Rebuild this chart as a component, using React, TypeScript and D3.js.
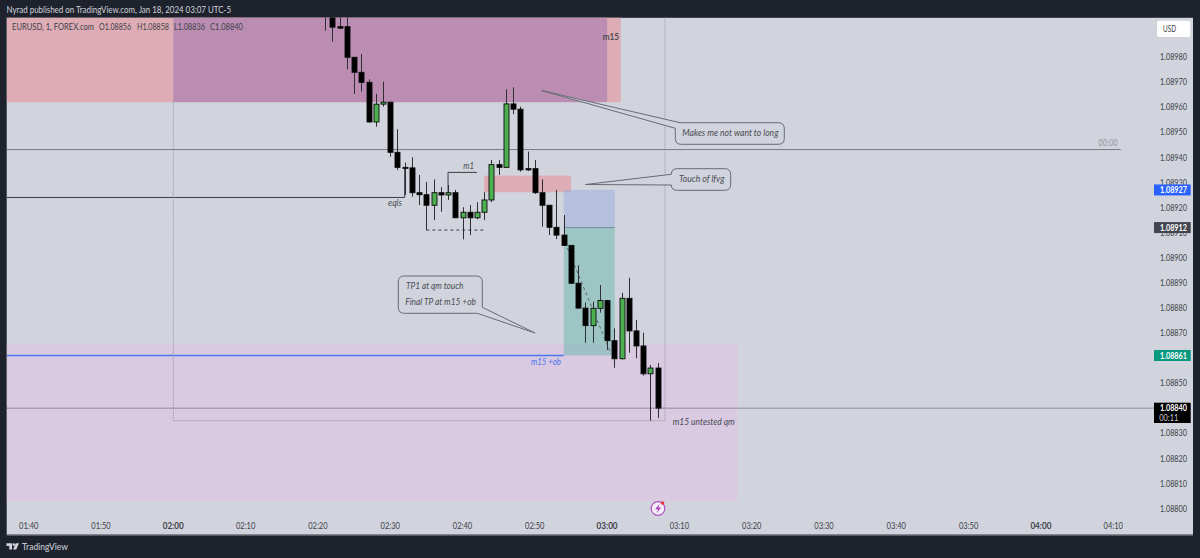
import React from "react";
import * as d3 from "d3";

const W = 1200, H = 558;
const panel = { l: 6.7, t: 17.5, r: 1193, b: 534.5 };

// Time in minutes since 01:40
const minutes = [41,42,43,44,45,46,47,48,49,50,51,52,53,54,55,56,57,58,59,60,61,62,63,64,65,66,67,68,69,70,71,72,73,74,75,76,77,78,79,80,81,82,83,84,85,86,87];
const opens = [1.09,1.08998,1.089921,1.089921,1.089799,1.089739,1.089699,1.089541,1.089612,1.08962,1.08942,1.08936,1.089358,1.089259,1.089251,1.089209,1.089259,1.08925,1.089259,1.089159,1.089181,1.089159,1.089181,1.08923,1.089371,1.08936,1.089613,1.089592,1.089355,1.089355,1.089259,1.089209,1.089121,1.08909,1.089049,1.088898,1.088799,1.088729,1.088798,1.088829,1.088669,1.088597,1.088838,1.088708,1.088648,1.088537,1.08856];
const highs = [1.09005,1.09,1.08998,1.08998,1.089799,1.089812,1.089711,1.089653,1.089702,1.08962,1.089512,1.089379,1.0894,1.08933,1.089302,1.089312,1.089281,1.08929,1.08927,1.089201,1.08921,1.089221,1.089261,1.089389,1.089389,1.089671,1.089679,1.089602,1.089423,1.089389,1.089312,1.089209,1.08927,1.08917,1.089049,1.08897,1.088821,1.088825,1.088891,1.08883,1.088718,1.08886,1.08892,1.088752,1.088701,1.088572,1.08858];
const lows = [1.089905,1.089861,1.089912,1.089751,1.089653,1.089662,1.089538,1.089522,1.089602,1.089403,1.08935,1.08925,1.089243,1.08921,1.08911,1.08915,1.089183,1.08923,1.089158,1.089073,1.08909,1.089153,1.08915,1.089221,1.08933,1.08936,1.089572,1.089343,1.089345,1.089254,1.089124,1.08909,1.089074,1.089047,1.088895,1.088798,1.088661,1.088661,1.088781,1.088632,1.088561,1.088594,1.088621,1.088599,1.08853,1.08835,1.08836];
const closes = [1.08998,1.089919,1.089915,1.089799,1.089739,1.089699,1.089541,1.089612,1.08962,1.08942,1.08936,1.089358,1.089259,1.089251,1.089209,1.089259,1.08925,1.089259,1.089159,1.089181,1.089159,1.089181,1.08923,1.089371,1.08936,1.089613,1.089592,1.08935,1.08935,1.089259,1.089209,1.089121,1.08909,1.089049,1.088898,1.088799,1.088729,1.088798,1.088829,1.088669,1.088597,1.088838,1.088708,1.088648,1.088537,1.08856,1.0884];

const priceTicks = ["1.08980","1.08970","1.08960","1.08950","1.08940","1.08930","1.08920","1.08910","1.08900","1.08890","1.08880","1.08870","1.08850","1.08830","1.08820","1.08810","1.08800"];
const timeLabels = ["01:40","01:50","02:00","02:10","02:20","02:30","02:40","02:50","03:00","03:10","03:20","03:30","03:40","03:50","04:00","04:10"];
const boldLabels = ["02:00","03:00","04:00"];
const priceTagLabels = ["1.08927", "1.08912", "1.08861"];
const priceTagColors = ["#2962ff", "#434651", "#089981"];

const x = d3.scaleLinear().domain([0, 150]).range([28.7, 1113.2]);
const y = d3.scaleLinear().domain([1.088, 1.0898]).range([508.5, 57]);

const font = "Lato, 'Open Sans', sans-serif";
const bg = "#d1d4dc";
const dark = "#1e222d";
const axisInk = "#3f4149";

function rect(t0: number | null, t1: number, p0: number | null, p1: number) {
  const xa = t0 === null ? panel.l : x(t0);
  const ya = p0 === null ? panel.t : y(p0);
  return { x: xa, y: ya, width: x(t1) - xa, height: y(p1) - ya };
}

// Text fitted to the width measured on the reference
function T(p: { x: number; y: number; w: number; s?: number; fill?: string; it?: boolean; b?: number; children: string }) {
  return (
    <text x={p.x} y={p.y} textLength={p.w} lengthAdjust="spacingAndGlyphs" fontFamily={font} fontSize={p.s ?? 8.6}
      fontStyle={p.it ? "italic" : "normal"} fontWeight={p.b ?? 400} fill={p.fill ?? axisInk}>
      {p.children}
    </text>
  );
}

export default function App() {
  const candles = minutes.map((m, i) => ({ m, o: opens[i], h: highs[i], l: lows[i], c: closes[i] }));
  const ink = "#4a4c54";
  return (
    <svg width={W} height={H} style={{ position: "absolute", left: 0, top: 0, display: "block" }} xmlns="http://www.w3.org/2000/svg">
      <defs>
        <clipPath id="plot"><rect x={panel.l} y={panel.t} width={panel.r - panel.l} height={panel.b - panel.t} /></clipPath>
      </defs>
      <rect width={W} height={H} fill={dark} />
      <rect x={panel.l} y={panel.t} width={panel.r - panel.l} height={panel.b - panel.t} fill={bg} />
      <line x1={panel.l} x2={panel.r} y1={panel.b + 0.5} y2={panel.b + 0.5} stroke="#8f929b" />
      <line x1={panel.l} x2={panel.r} y1={panel.t} y2={panel.t} stroke="#434651" />

      <T x={6.5} y={13} w={224.5} s={8.8} fill="#d1d4dc">Nyrad published on TradingView.com, Jan 18, 2024 03:07 UTC-5</T>

      <g clipPath="url(#plot)">
        {/* zones */}
        <rect {...rect(null, 81.9, null, 1.08962)} fill="#deacb5" />
        <rect {...rect(20, 80, null, 1.08962)} fill="#bb8db3" />
        <rect {...rect(null, 98, 1.088656, 1.088029)} fill="#d9c9e1" />
        <rect {...rect(63, 75, 1.089327, 1.089261)} fill="#deacb5" />
        <rect {...rect(74, 81.05, 1.08927, 1.08912)} fill="#99ace0" opacity={0.5} />
        <rect {...rect(74, 81.05, 1.08912, 1.08861)} fill="#69b6ac" opacity={0.5} />
        <line x1={x(74)} x2={x(81.05)} y1={y(1.08912)} y2={y(1.08912)} stroke="#6f7f90" strokeWidth={0.8} />

        {/* lines */}
        <line x1={panel.l} x2={x(151.04)} y1={y(1.089431)} y2={y(1.089431)} stroke="#787b86" />
        <path d={`M${panel.l},${y(1.08924)} H${x(52)} V${y(1.08936)}`} fill="none" stroke="#3b3d45" />
        <path d={`M${x(58)},${y(1.08925)} V${y(1.08934)} H${x(62)}`} fill="none" stroke="#3b3d45" />
        <path d={`M${x(55)},${y(1.08911)} H${x(63.1)}`} fill="none" stroke="#3b3d45" strokeDasharray="3 3" />
        <line x1={x(74.2)} y1={y(1.08906)} x2={x(80.5)} y2={y(1.08862)} stroke="#5e6470" strokeDasharray="3 3" />
        <line x1={panel.l} x2={x(74)} y1={y(1.08861)} y2={y(1.08861)} stroke="#4a78f0" strokeWidth={1.3} />
        <line x1={x(20)} x2={x(88)} y1={y(1.08835)} y2={y(1.08835)} stroke="#a4a6b0" strokeWidth={0.8} />
        <path d={`M${x(20)},${y(1.08962)} V${y(1.08835)} M${x(88)},${y(1.08835)} V${panel.t}`} fill="none" stroke="#94969f" strokeWidth={0.8} strokeDasharray="1.5 1" />

        {/* candles */}
        {candles.map((d) => {
          const cx = Math.round(x(d.m)) + 0.5;
          const up = d.c >= d.o;
          const top = y(Math.max(d.o, d.c));
          const bot = y(Math.min(d.o, d.c));
          return (
            <g key={d.m}>
              <line x1={cx} x2={cx} y1={y(d.h)} y2={y(d.l)} stroke="#2e2f34" />
              <rect x={cx - 2.5} y={top} width={5} height={Math.max(bot - top, 1)} fill={up ? "#4caf50" : "#000"} stroke="#0c0c0c" strokeWidth={0.9} />
            </g>
          );
        })}

        {/* dotted last price */}
        <line x1={panel.l} x2={1154} y1={y(1.0884)} y2={y(1.0884)} stroke="#4a4c54" strokeDasharray="1 1" />
      </g>

      {/* callouts */}
      <g fill={bg} stroke="#686b76" strokeWidth={1}>
        <path d="M680,122.7 H778.3 Q784.3,122.7 784.3,128.7 V138.3 Q784.3,144.3 778.3,144.3 H681.3 Q675.3,144.3 675.3,138.3 V128.3 L541.5,90.5 Z" />
        <path d="M677.3,168.7 H724.7 Q730.7,168.7 730.7,174.7 V184.3 Q730.7,190.3 724.7,190.3 H677.3 Q671.3,190.3 671.3,185 L585.5,184.5 L671.3,174.3 Q671.3,168.7 677.3,168.7 Z" />
        <path d="M404.3,276 H476.3 Q482.3,276 482.3,282 V307.3 L535,333 L477.3,313.3 H404.3 Q398.3,313.3 398.3,307.3 V282 Q398.3,276 404.3,276 Z" />
      </g>
      <T x={682.3} y={136.3} w={96} s={9} it fill={ink}>Makes me not want to long</T>
      <T x={679} y={182.3} w={45.3} s={9} it fill={ink}>Touch of lfvg</T>
      <T x={406} y={289} w={57.3} s={9} it fill={ink}>TP1 at qm touch</T>
      <T x={405.3} y={304.8} w={70.7} s={9} it fill={ink}>Final TP at m15 +ob</T>
      <T x={388} y={206} w={14} s={9} it fill={ink}>eqls</T>
      <T x={463.3} y={168.5} w={10.7} s={9} it fill={ink}>m1</T>
      <T x={531} y={365} w={30} s={9} it fill="#4a78ee">m15 +ob</T>
      <T x={672.7} y={425} w={62} s={9} it fill={ink}>m15 untested qm</T>
      <T x={602.7} y={39.5} w={16.3} s={9} fill={ink} b={700}>m15</T>
      <T x={1098.3} y={146} w={19.4} s={9} it fill="#8f929b">00:00</T>

      <T x={12} y={30.3} w={82}>EURUSD, 1, FOREX.com</T>
      <T x={99} y={30.3} w={32}>O1.08856</T>
      <T x={137} y={30.3} w={32}>H1.08858</T>
      <T x={174} y={30.3} w={31}>L1.08836</T>
      <T x={210} y={30.3} w={33}>C1.08840</T>

      {/* price axis */}
      {priceTicks.map((t) => (
        <T key={t} x={1160} y={y(+t) + 3.2} w={27}>{t}</T>
      ))}
      <rect x={1157} y={20.7} width={33.3} height={16.3} rx={2} fill="#fff" />
      <T x={1163} y={32.2} w={13}>USD</T>
      {priceTagLabels.map((label, i) => {
        const cy = y(+label);
        return (
          <g key={label}>
            <rect x={1154} y={cy - 5.5} width={36.7} height={11} fill={priceTagColors[i]} />
            <T x={1160} y={cy + 3.2} w={27} fill="#fff" b={700}>{label}</T>
          </g>
        );
      })}
      <rect x={1154} y={402.7} width={36.7} height={20.3} fill="#000" />
      <T x={1160} y={411.3} w={27} fill="#fff" b={700}>1.08840</T>
      <T x={1159.3} y={420.8} w={19} fill="#c8cad2">00:11</T>

      {/* time axis */}
      {timeLabels.map((t, i) => {
        const bold = boldLabels.includes(t);
        const w = bold ? 21 : 19.4;
        return <T key={t} x={x(i * 10) - w / 2} y={528.5} w={w} b={bold ? 700 : 400}>{t}</T>;
      })}

      {/* lightning badge */}
      <circle cx={658} cy={508.5} r={6.8} fill="#f3eef6" stroke="#b44fc4" strokeWidth={1.2} />
      <path d="M659.5,503.8 L655.2,509.2 H658 L656.8,513.2 L661,507.6 H658.3 Z" fill="#a93fc0" />
      <circle cx={662.5} cy={503} r={1.8} fill="#f23645" />

      {/* footer */}
      <g fill="#d1d4dc">
        <path d="M6.5,543.3 H12 V549.5 H9.3 V546 H6.5 Z" />
        <circle cx={13.8} cy={544.6} r={1.3} />
        <path d="M15.8,543.3 H19 L16.2,549.5 H13 Z" />
      </g>
      <T x={22} y={550} w={46} s={10} b={500} fill="#c8cad2">TradingView</T>
    </svg>
  );
}
